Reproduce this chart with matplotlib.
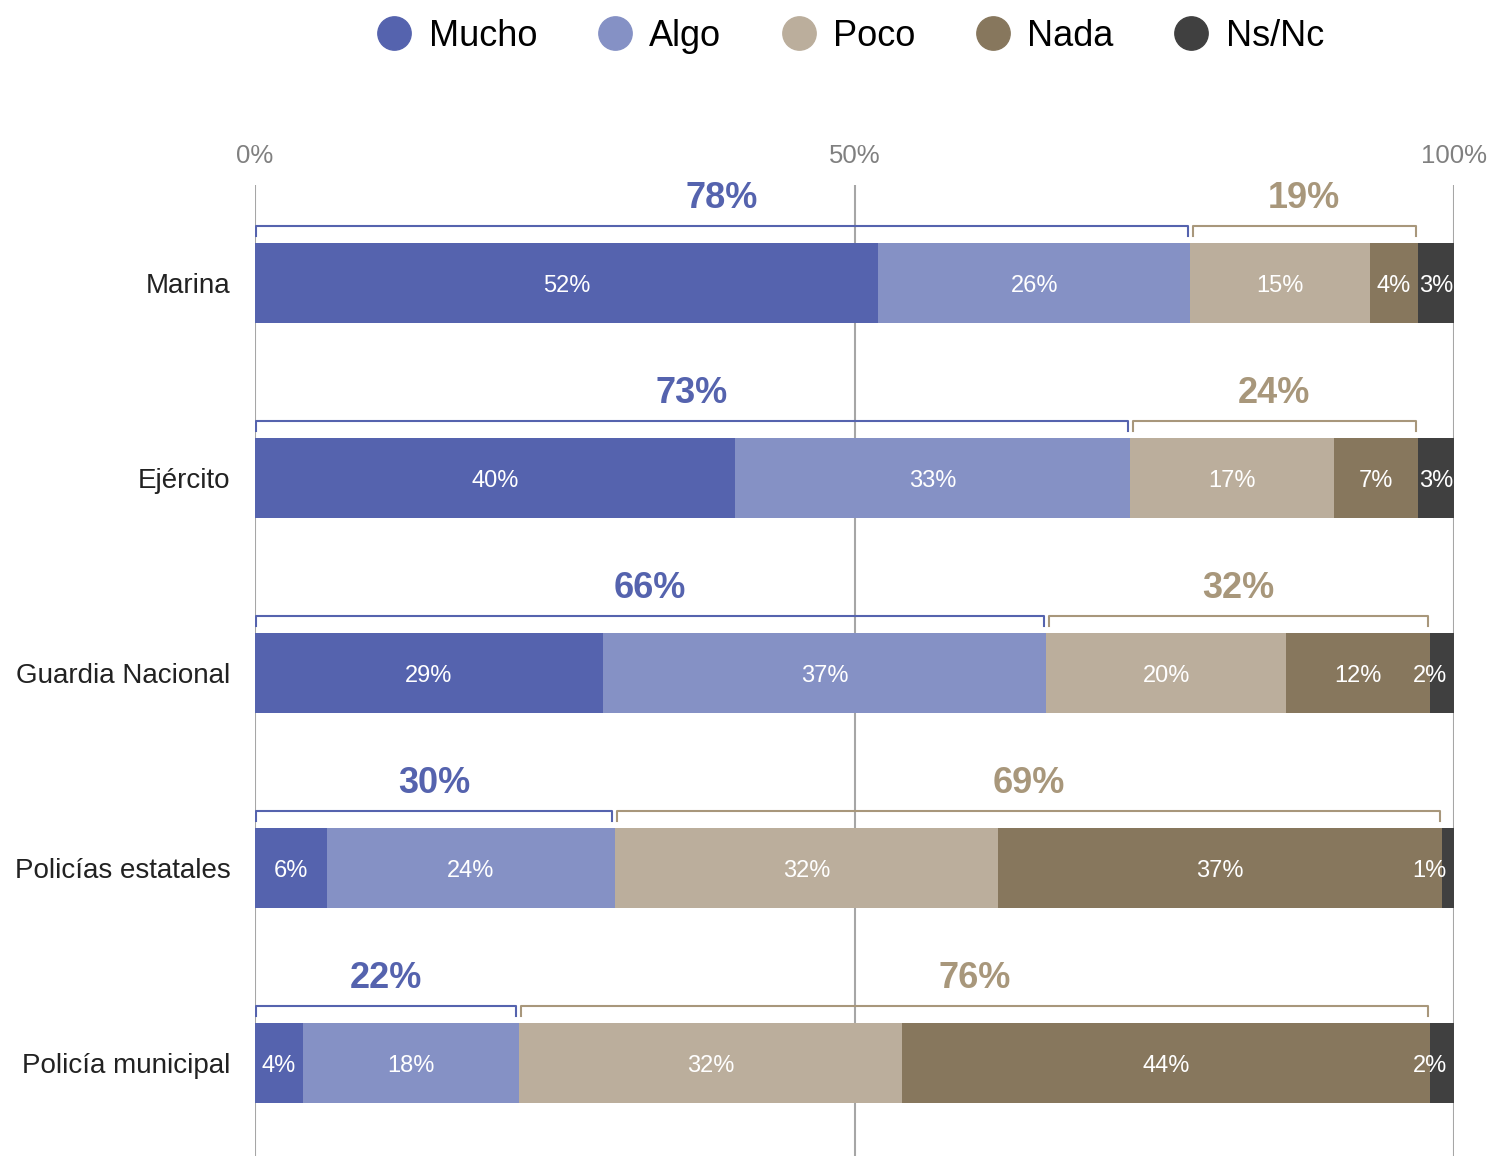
import matplotlib.pyplot as plt
from matplotlib.lines import Line2D

plt.rcParams['font.family'] = ['Liberation Sans', 'DejaVu Sans']

categories = ['Marina', 'Ejército', 'Guardia Nacional', 'Policías estatales', 'Policía municipal']
series = ['Mucho', 'Algo', 'Poco', 'Nada', 'Ns/Nc']
mucho = [52, 40, 29, 6, 4]
algo = [26, 33, 37, 24, 18]
poco = [15, 17, 20, 32, 32]
nada = [4, 7, 12, 37, 44]
nsnc = [3, 3, 2, 1, 2]
pos_total = [78, 73, 66, 30, 22]
neg_total = [19, 24, 32, 69, 76]

colors = ['#5563ae', '#8591c5', '#bbae9c', '#87775d', '#404040']
pos_color = '#5563ae'
neg_color = '#a8977b'

values = [mucho, algo, poco, nada, nsnc]

fig = plt.figure(figsize=(14.94, 11.56), dpi=100)
ax = fig.add_axes([255 / 1494, 0.0, 1199 / 1494, (1156 - 185) / 1156])

for x in [0, 50, 100]:
    ax.axvline(x, color='#a6a6a6', lw=1.5, zorder=0)

bar_h = 0.41
dy = 0.016  # nudge text down a little
for i, cat in enumerate(categories):
    left = 0
    for s, vals in enumerate(values):
        v = vals[i]
        ax.barh(i, v, left=left, height=bar_h, color=colors[s], zorder=2)
        if s == 4 and v < 3:
            ax.text(99.4, i + dy, f'{v}%', ha='right', va='center', color='white',
                    fontsize=17, zorder=3)
        else:
            ax.text(left + v / 2, i + dy, f'{v}%', ha='center', va='center', color='white',
                    fontsize=17, zorder=3)
        left += v

    # brackets over agree / disagree totals
    y_line = i - 0.292
    y_tick = i - 0.241
    p = pos_total[i]
    n = neg_total[i]
    for x0, x1, col, lab in [(0.1, p - 0.2, pos_color, p), (p + 0.2, p + n - 0.2, neg_color, n)]:
        ax.plot([x0, x0, x1, x1], [y_tick, y_line, y_line, y_tick], color=col, lw=1.5,
                solid_joinstyle='round', zorder=3)
        ax.text((x0 + x1) / 2, i - 0.451 + dy, f'{lab}%', ha='center', va='center',
                color=col, fontsize=26, fontweight='bold')

    ax.text(-2.05, i + dy, cat, ha='right', va='center', fontsize=20, color='#222222')

ax.set_xlim(0, 100)
ax.set_ylim(4 + 93 / 195, -98 / 195)
ax.xaxis.tick_top()
ax.set_xticks([0, 50, 100])
ax.set_xticklabels(['0%', '50%', '100%'], fontsize=18.5, color='#808080')
ax.tick_params(axis='x', length=0, pad=12.5)
ax.set_yticks([])
for sp in ax.spines.values():
    sp.set_visible(False)

handles = [Line2D([], [], marker='o', ls='', markersize=24, markerfacecolor=c,
                  markeredgecolor=c) for c in colors]
fig.legend(handles, series, loc='upper center', bbox_to_anchor=(0.569, 1.012), ncol=5,
           frameon=False, fontsize=26, handletextpad=0.45, columnspacing=1.65,
           handlelength=1.0)

fig.savefig('out.png', dpi=100)
